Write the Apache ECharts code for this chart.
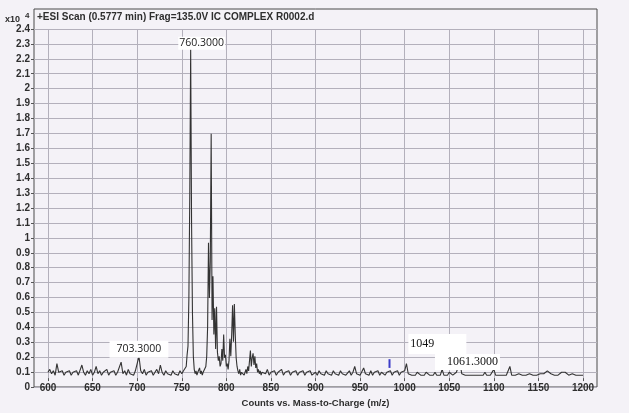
<!DOCTYPE html>
<html>
<head>
<meta charset="utf-8">
<script src="https://cdn.jsdelivr.net/npm/echarts@6/dist/echarts.min.js"></script>
<style>html,body{margin:0;padding:0;background:#f4f2f7;}#c{width:629px;height:413px;}</style>
</head>
<body>
<div id="c"></div>
<script>
// m/z axis ticks and intensity ticks (x10^4 counts)
const xTicks = [600, 650, 700, 750, 800, 850, 900, 950, 1000, 1050, 1100, 1150, 1200];
const yMax = 2.4;
const yStep = 0.1;

// spectrum, intensity in units of 10^4 counts
const lowStart = 600, lowStep = 2;
const lowCounts = [0.04,0.06,0.03,0.05,0.02,0.10,0.04,0.03,0.05,0.02,
  0.04,0.03,0.05,0.02,0.04,0.03,0.05,0.02,0.03,0.09,
  0.04,0.02,0.05,0.03,0.06,0.02,0.04,0.08,0.03,0.05,
  0.02,0.04,0.03,0.06,0.02,0.04,0.03,0.05,0.02,0.04,
  0.03,0.11,0.03,0.05,0.02,0.06,0.03,0.04,0.02,0.05,
  0.04,0.15,0.05,0.03,0.06,0.02,0.04,0.03,0.05,0.02,
  0.04,0.06,0.03,0.09,0.04,0.02,0.05,0.03,0.04,0.02,
  0.05,0.03,0.04,0.02,0.05,0.03,0.05];

const clusterStart = 753, clusterStep = 1;
const clusterCounts = [0.04,0.06,0.08,0.16,0.22,0.55,1.26,2.26,1.07,0.45,0.15,
  0.06,0.03,0.05,0.02,0.04,0.03,0.07,0.03,0.05,0.02,0.04,0.03,0.05,0.08,
  0.15,0.35,0.93,0.55,0.80,1.68,0.40,0.70,0.30,0.48,0.20,0.49,0.18,
  0.12,0.15,0.08,0.10,0.20,0.12,0.30,0.14,0.16,0.08,0.10,0.06,0.12,0.27,0.15,0.30,0.50,0.25,0.51,0.30,0.14,
  0.08,0.05,0.03,0.06,0.02,0.04,0.03,0.05,0.02,0.04,0.06,0.03,0.08,0.05,0.12,0.19,0.08,0.14,0.17,0.09,0.15,0.07,0.10,0.04,0.06,0.03,0.05,0.02,0.04];

const highStart = 842, highStep = 2;
const highCounts = [0.05,0.03,0.06,0.02,0.04,0.03,0.05,0.02,0.04,0.03,
  0.06,0.02,0.04,0.03,0.05,0.02,0.04,0.03,0.05,0.02,
  0.04,0.03,0.05,0.02,0.04,0.03,0.05,0.02,0.03,0.04,
  0.02,0.05,0.03,0.04,0.02,0.05,0.03,0.04,0.02,0.05,
  0.03,0.04,0.02,0.05,0.03,0.04,0.02,0.03,0.05,0.02,
  0.04,0.08,0.03,0.04,0.02,0.03,0.07,0.03,0.04,0.02,
  0.05,0.02,0.04,0.03,0.05,0.02,0.04,0.03,0.02,0.04,
  0.03,0.05,0.02,0.04,0.03,0.05,0.02,0.04,0.03,0.05,
  0.10,0.03,0.04,0.02,0.03,0.02,0.04,0.03,0.02,0.03,
  0.02,0.04,0.03,0.02,0.03,0.02,0.04,0.02,0.03,0.02,
  0.06,0.02,0.03,0.02,0.04,0.03,0.02,0.03,0.04,0.05,
  0.11,0.03,0.04,0.02,0.03,0.02,0.03,0.02,0.03,0.02,
  0.03,0.02,0.03,0.02,0.04,0.02,0.03,0.02,0.03,0.06,
  0.02,0.03,0.02,0.03,0.02,0.03,0.02,0.03,0.08,0.02,
  0.03,0.02,0.02,0.03,0.02,0.02,0.03,0.02,0.02,0.03,
  0.02,0.02,0.03,0.02,0.02,0.03,0.02,0.03,0.04,0.05,
  0.04,0.03,0.02,0.02,0.03,0.02,0.03,0.04,0.03,0.04,
  0.03,0.02,0.02,0.03,0.02,0.02,0.03,0.02,0.02,0.02];

// small blue marker stick near m/z 983
const markerMz = [983, 983];
const markerCounts = [0.07, 0.13];

// peak annotations [label, m/z, intensity]
const peakLabels = [
  ['760.3000', 760, 2.26],
  ['703.3000', 702, 0.15],
  ['1049', 1049, 0.235],
  ['1061.3000', 1062, 0.11]
];

function seg(start, step, arr) { return arr.map((v, i) => [start + i * step, v]); }
const spectrum = [].concat(seg(lowStart, lowStep, lowCounts), seg(clusterStart, clusterStep, clusterCounts), seg(highStart, highStep, highCounts));
const marker = markerMz.map((m, i) => [m, markerCounts[i]]);

const txt = '#2e2e2e';
const gridCol = '#b3b0bb';
const axFont = {fontFamily: 'Liberation Sans, Arial', fontWeight: 'bold', fontSize: 10, color: txt};
const sansLbl = "'Open Sans', 'Noto Sans', sans-serif";

const chart = echarts.init(document.getElementById('c'), null, {renderer: 'canvas'});
chart.setOption({
  backgroundColor: '#f4f2f7',
  animation: false,
  title: [
    {text: '+ESI Scan (0.5777 min) Frag=135.0V IC COMPLEX R0002.d', left: 37, top: 12, padding: 0,
     textStyle: {fontFamily: 'Liberation Sans, Arial', fontWeight: 'bold', fontSize: 10, color: txt}},
    {text: '{a|x10} {b|4}', left: 5, top: 9, padding: 0,
     textStyle: {rich: {a: {fontFamily: 'Liberation Sans', fontWeight: 'bold', fontSize: 9, color: txt, padding: [4,0,0,0]},
                        b: {fontFamily: 'Liberation Sans', fontWeight: 'bold', fontSize: 8, color: txt, padding: [0,0,4,0]}}}}
  ],
  grid: [
    {left: 34, right: 32, top: 9, bottom: 26, show: true, borderColor: '#4a4a4a', borderWidth: 1, backgroundColor: 'transparent'},
    {left: 34, right: 32, top: 29, bottom: 26},
    {left: 48, right: 46, top: 29, bottom: 26}
  ],
  xAxis: [
    {gridIndex: 0, type: 'value', show: false, min: 0, max: 1},
    {gridIndex: 1, type: 'value', show: false, min: 0, max: 1},
    {gridIndex: 2, type: 'value', min: xTicks[0], max: xTicks[xTicks.length - 1], interval: 50,
     axisLine: {show: false}, axisTick: {show: true, length: 3, lineStyle: {color: '#555'}},
     axisLabel: Object.assign({margin: 5, formatter: v => String(v)}, axFont),
     splitLine: {show: true, lineStyle: {color: gridCol, width: 1}},
     name: 'Counts vs. Mass-to-Charge (m/z)', nameLocation: 'middle', nameGap: 17,
     nameTextStyle: {fontFamily: 'Liberation Sans, Arial', fontWeight: 'bold', fontSize: 9.5, color: txt}}
  ],
  yAxis: [
    {gridIndex: 0, type: 'value', show: false, min: 0, max: 1},
    {gridIndex: 1, type: 'value', min: 0, max: yMax, interval: yStep,
     axisLine: {show: false}, axisTick: {show: true, length: 3, lineStyle: {color: '#555'}},
     axisLabel: Object.assign({margin: 4, formatter: v => String(Math.round(v * 10) / 10)}, axFont),
     splitLine: {show: true, lineStyle: {color: gridCol, width: 1}}},
    {gridIndex: 2, type: 'value', show: false, min: 0, max: yMax}
  ],
  series: [
    {type: 'line', xAxisIndex: 2, yAxisIndex: 2, data: spectrum, showSymbol: false, symbol: 'none',
     lineStyle: {color: '#333333', width: 1.1}, z: 3,
     markPoint: {
       symbol: 'rect', symbolSize: 1, itemStyle: {color: 'rgba(0,0,0,0)'}, silent: true,
       data: [
         {coord: [peakLabels[0][1], peakLabels[0][2]], label: {show: true, formatter: peakLabels[0][0], position: 'inside', offset: [11, -6],
           fontFamily: sansLbl, fontSize: 10.5, color: '#1a1a1a', backgroundColor: '#ffffff', padding: [1, 1]}},
         {coord: [peakLabels[1][1], peakLabels[1][2]], label: {show: true, formatter: peakLabels[1][0], position: 'inside', offset: [0, -7],
           fontFamily: sansLbl, fontSize: 10.5, color: '#1a1a1a', backgroundColor: '#ffffff', padding: [3, 7]}},
         {coord: [peakLabels[2][1], peakLabels[2][2]], label: {show: true, formatter: peakLabels[2][0], position: 'inside', align: 'left', offset: [-40, 0],
           fontFamily: 'Liberation Serif', fontSize: 12, color: '#111', backgroundColor: '#ffffff', padding: [4, 32, 4, 2]}},
         {coord: [peakLabels[3][1], peakLabels[3][2]], label: {show: true, formatter: peakLabels[3][0], position: 'inside', align: 'left', offset: [-25, 0],
           fontFamily: 'Liberation Serif', fontSize: 12, color: '#111', backgroundColor: '#ffffff', padding: [2, 2, 2, 12]}}
       ]
     }},
    {type: 'line', xAxisIndex: 2, yAxisIndex: 2, data: marker, showSymbol: false, symbol: 'none',
     lineStyle: {color: '#3c3cc8', width: 2}, z: 4}
  ]
});
</script>
</body>
</html>
